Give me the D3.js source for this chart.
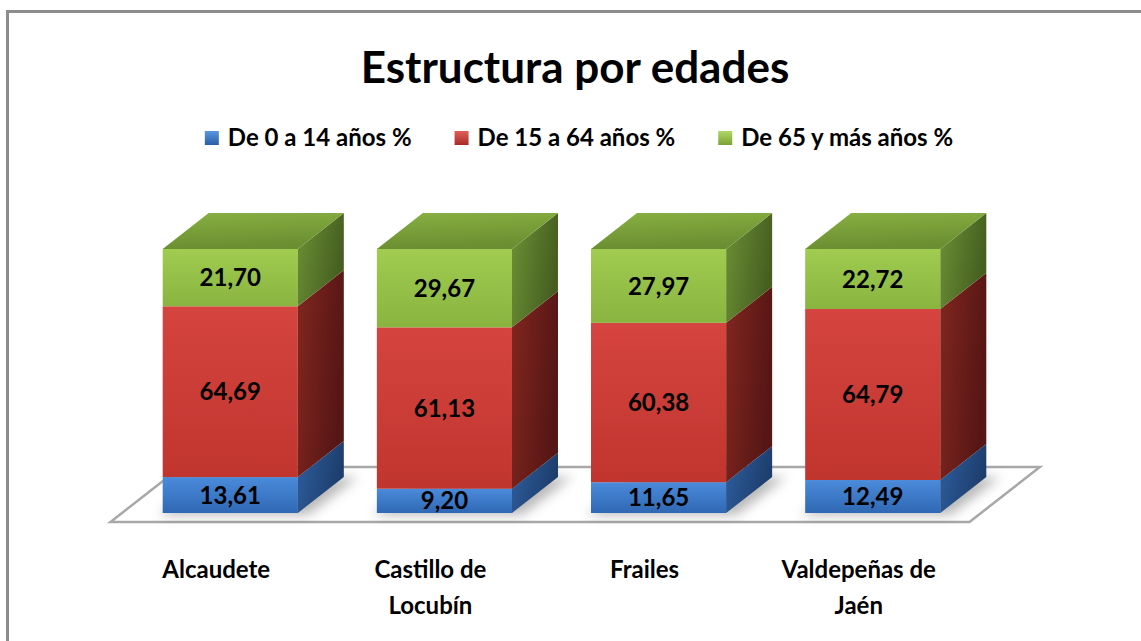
<!DOCTYPE html>
<html><head><meta charset="utf-8">
<script src="https://cdn.jsdelivr.net/npm/d3@7"></script>
<style>html,body{margin:0;padding:0;background:#fff;}svg{display:block;font-family:Lato,"Open Sans",sans-serif;}</style>
</head><body>
<script>
const categories = ["Alcaudete", "Castillo de Locubín", "Frailes", "Valdepeñas de Jaén"];
const categoryLines = [["Alcaudete"], ["Castillo de", "Locubín"], ["Frailes"], ["Valdepeñas de", "Jaén"]];
const seriesNames = ["De 0 a 14 años %", "De 15 a 64 años %", "De 65 y más años %"];
const seriesKeys = ["young", "adult", "old"];
const young = [13.61, 9.20, 11.65, 12.49];
const adult = [64.69, 61.13, 60.38, 64.79];
const old = [21.70, 29.67, 27.97, 22.72];
const title = "Estructura por edades";

const W = 1141, H = 641;
const DX = 46, DY = -36;
const fmt = v => v.toFixed(2).replace(".", ",");

const rows = categories.map((c, i) => ({cat: c, young: young[i], adult: adult[i], old: old[i]}));
const stack = d3.stack().keys(seriesKeys)(rows);

const x = d3.scaleBand().domain(categories).range([122, 981]).paddingInner(0.369).paddingOuter(0.19);
const y = d3.scaleLinear().domain([0, 100]).range([513, 249]);

const svg = d3.select("body").append("svg").attr("width", W).attr("height", H);
const defs = svg.append("defs");

const pal = {
  young: {f: ["#4b8bdb", "#2f68b4"], s: ["#2e5e9e", "#1d3d6c"], t: ["#3f78c4", "#2c5b9a"], leg: ["#5b97e0", "#2a5ea6"]},
  adult: {f: ["#d5443f", "#c1352f"], s: ["#82261f", "#561615"], t: ["#b33a34", "#8a2a26"], leg: ["#e0605a", "#a72c28"]},
  old:   {f: ["#a0cc50", "#89b440"], s: ["#6c9034", "#465f21"], t: ["#88b042", "#6a8e31"], leg: ["#b1d865", "#78a236"]}
};
function grad(id, c, x2, y2) {
  const g = defs.append("linearGradient").attr("id", id).attr("x1", 0).attr("y1", 0).attr("x2", x2).attr("y2", y2);
  g.append("stop").attr("offset", "0%").attr("stop-color", c[0]);
  g.append("stop").attr("offset", "100%").attr("stop-color", c[1]);
}
seriesKeys.forEach(k => {
  grad("f-" + k, pal[k].f, 0, 1);
  grad("s-" + k, pal[k].s, 1, 0.3);
  grad("t-" + k, pal[k].t, 0.2, 1);
  grad("l-" + k, pal[k].leg, 0, 1);
});
defs.append("filter").attr("id", "blur").attr("x", "-50%").attr("y", "-50%").attr("width", "200%").attr("height", "200%")
  .append("feGaussianBlur").attr("stdDeviation", 6);

// chart border
svg.append("path").attr("d", `M7.5,${H} L7.5,11.5 L${W},11.5`).attr("fill", "none").attr("stroke", "#8c8c8c").attr("stroke-width", 3);

// title
svg.append("text").attr("x", 575).attr("y", 83).attr("text-anchor", "middle")
  .attr("font-size", 44).attr("font-weight", 700).attr("fill", "#000").text(title);

// legend
const leg = svg.append("g");
let lx = 0;
seriesNames.forEach((n, i) => {
  const g = leg.append("g").attr("transform", `translate(${lx},0)`);
  g.append("rect").attr("x", 0).attr("y", -7).attr("width", 14).attr("height", 14).attr("fill", `url(#l-${seriesKeys[i]})`);
  const t = g.append("text").attr("x", 23).attr("y", 8).attr("font-size", 24).attr("font-weight", 700).attr("fill", "#000").text(n);
  lx += 23 + t.node().getComputedTextLength() + 43;
});
const legW = lx - 43;
leg.attr("transform", `translate(${579 - legW / 2},138)`);

// floor
const y0 = y(0);
const fl = -0.25, fb = 1.28;
const r = x.range();
const floor = [[r[0] + fl * DX, y0 + fl * DY], [r[1] + fl * DX, y0 + fl * DY], [r[1] + fb * DX, y0 + fb * DY], [r[0] + fb * DX, y0 + fb * DY]];
svg.append("polygon").attr("points", floor.map(p => p.join(",")).join(" "))
  .attr("fill", "#fff").attr("stroke", "#a8a8a8").attr("stroke-width", 2.5);

// shadows
const sh = svg.append("g").attr("filter", "url(#blur)");
categories.forEach(c => {
  const x0 = x(c), x1 = x0 + x.bandwidth();
  sh.append("polygon").attr("points", [[x0 - 4, y0 + 2], [x1 + 10, y0 + 2], [x1 + DX + 14, y0 + DY], [x0 + DX, y0 + DY]].map(p => p.join(",")).join(" "))
    .attr("fill", "#000").attr("opacity", 0.28);
});

// bars
const bars = svg.append("g");
categories.forEach((c, ci) => {
  const x0 = x(c), x1 = x0 + x.bandwidth();
  stack.forEach((s, si) => {
    const k = s.key, d = s[ci];
    const yt = y(d[1]), yb = y(d[0]);
    bars.append("rect").attr("x", x0).attr("y", yt).attr("width", x1 - x0).attr("height", yb - yt).attr("fill", `url(#f-${k})`);
    bars.append("polygon").attr("points", [[x1, yb], [x1, yt], [x1 + DX, yt + DY], [x1 + DX, yb + DY]].map(p => p.join(",")).join(" "))
      .attr("fill", `url(#s-${k})`);
    if (si === stack.length - 1) {
      bars.append("polygon").attr("points", [[x0, yt], [x1, yt], [x1 + DX, yt + DY], [x0 + DX, yt + DY]].map(p => p.join(",")).join(" "))
        .attr("fill", `url(#t-${k})`);
    }
    bars.append("text").attr("x", (x0 + x1) / 2).attr("y", (yt + yb) / 2).attr("dy", "0.36em")
      .attr("text-anchor", "middle").attr("font-size", 24).attr("font-weight", 700).attr("fill", "#000")
      .text(fmt(d.data[k]));
  });
});

// category labels
categories.forEach((c, ci) => {
  const cx = x(c) + x.bandwidth() / 2 - 14;
  const t = svg.append("text").attr("text-anchor", "middle").attr("font-size", 24).attr("font-weight", 700).attr("fill", "#000");
  categoryLines[ci].forEach((ln, li) => {
    t.append("tspan").attr("x", cx).attr("y", 578 + li * 36).text(ln);
  });
});
</script>
</body></html>
